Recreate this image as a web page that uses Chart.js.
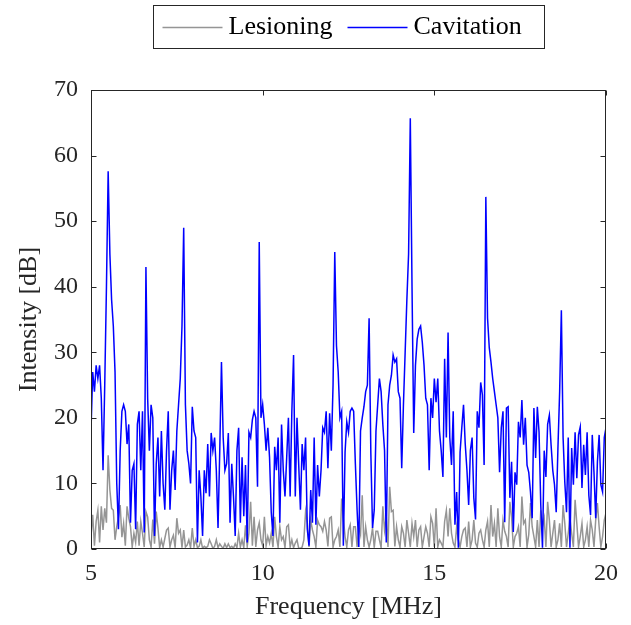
<!DOCTYPE html>
<html>
<head>
<meta charset="utf-8">
<script src="https://cdn.jsdelivr.net/npm/chart.js@4.4.0/dist/chart.umd.min.js"></script>
<style>
html, body { margin: 0; padding: 0; background: #fff; }
#wrap { width: 631px; height: 625px; }
</style>
</head>
<body>
<div id="wrap"><canvas id="spectrum" width="631" height="625"></canvas></div>
<script>
// frequency grid of the spectra [MHz]
var freqStart = 5;
var freqStep = 0.05;

var xTicks = [5, 10, 15, 20];
var yTicks = [0, 10, 20, 30, 40, 50, 60, 70];

var seriesNames = ['Lesioning', 'Cavitation'];

// Intensity [dB], one value every 0.05 MHz from 5 to 20 MHz
var cavitation = [
  18, 27, 24, 28, 26, 28, 23, 12, 25, 40, 57.6, 45, 38, 34, 27, 10, 3, 15, 21, 22,
  21, 16, 19, 4, 12, 13, 3, 19, 21, 12, 21, 2.5, 43, 23, 15, 22, 20, 2, 13, 17,
  8, 18, 10, 6, 15, 21, 6, 12, 15, 9, 18, 22, 26, 34, 49, 22, 15, 13, 10, 21.7,
  18, 17, 1, 12, 8, 2, 12, 8.5, 16, 8, 17.7, 15, 17, 12, 3.2, 15, 28.5, 17, 12, 13,
  17.7, 4, 13, 8, 2, 15, 18.5, 4, 14, 5, 12.8, 1, 17.8, 17, 19.7, 21, 20, 9.5, 46.8, 20,
  22, 19, 15, 18.5, 14, 5.6, 2, 15.6, 12, 17, 4, 19, 12, 8, 14, 20, 8, 21, 29.6, 8,
  20, 12.8, 6, 16, 12, 17, 3, 0.5, 9, 4, 17, 3.7, 12.8, 8, 12, 18.5, 17.8, 21, 12.3, 20.7,
  15, 25, 45.3, 31, 27, 20, 21, 0.5, 14.8, 19.4, 17.8, 21, 21.5, 21, 13, 6, 0.3, 18, 20, 21.7,
  24, 25, 35.2, 14.8, 3.2, 6, 18, 22, 26, 24, 19, 15, 1, 22, 25, 26.5, 29.6, 28.5, 29, 24,
  23, 12.3, 22, 30, 38, 45, 65.7, 40, 17.7, 28, 32, 33.5, 34, 31.5, 28, 23, 22, 12, 23, 20,
  26, 22.4, 26, 18, 15, 11, 29, 17, 33, 17, 12.8, 21, 3.7, 8.7, 0.2, 14.8, 18.5, 22, 16, 12,
  6.7, 15, 17, 7.8, 4.5, 21, 18.5, 25.4, 23.5, 12.8, 53.7, 35.2, 30.7, 28.5, 26, 24, 22, 20, 11.7, 18.5,
  21, 4.1, 21.5, 21.7, 7.8, 13.3, 2.6, 11.7, 9.8, 19.4, 17, 22.7, 15.9, 20, 12.8, 11.7, 8.7, 4.7, 21.5, 13.9,
  21.7, 17.8, 6.7, 0.2, 15, 11, 19, 20.4, 15.9, 12, 9.8, 5.6, 15.4, 24, 36.4, 17, 10.2, 5.6, 17, 0.2,
  15.4, 9.8, 17.8, 10.8, 17.4, 18.6, 9.3, 15.9, 11.3, 17.8, 8.2, 5.2, 17.4, 11.7, 4.7, 13.3, 17.4, 9.8, 8.7, 17, 18.5
];

var lesioning = [
  2, 5.2, 0.5, 4.2, 5.9, 1, 6.5, 2.9, 6.2, 4, 14.3, 9, 6.2, 5.9, 1.4, 3.4, 4.9, 6.7, 1.8, 3.9,
  0.5, 6.5, 4.7, 3.4, 0.3, 2.4, 1, 4.2, 0.5, 4.2, 2.4, 0.3, 5.7, 4.9, 1.4, 0.3, 4.5, 0.8, 5.7, 3.2,
  0.2, 1.4, 0.3, 1.6, 2.9, 3.2, 0.3, 1.4, 2.1, 0.2, 4.7, 2.4, 2.9, 0.2, 2.9, 0.3, 0.6, 1.4, 0.2, 3.2,
  0.4, 1.4, 0.2, 0.4, 1.4, 0.1, 0.4, 0.2, 0.4, 1.4, 0.8, 0.1, 0.4, 1.4, 0.2, 0.8, 0.4, 0.1, 0.8, 0.2,
  0.8, 0.2, 0.4, 0.1, 0.8, 0.2, 2.4, 0.3, 1.4, 0.2, 3.6, 0.4, 2.4, 7.2, 0.5, 4.9, 0.3, 2.9, 4, 1.4,
  0.5, 4.9, 0.5, 1.9, 0.9, 2.4, 0.3, 4.9, 1.9, 0.3, 3.4, 1.4, 1.9, 0.2, 3.4, 3.7, 0.3, 1.4, 0.2, 0.9,
  1.4, 0.1, 0.1, 0.3, 1.4, 5.7, 3.9, 0.3, 4.4, 2.9, 1.9, 0.3, 4.4, 3.7, 3.4, 2.7, 4.2, 2.9, 0.4, 4.7,
  4.9, 0.3, 1.4, 1.9, 2.9, 0.3, 7.7, 4.7, 1.9, 0.3, 2.9, 3.7, 0.3, 3.4, 3.4, 0.3, 3.4, 2.2, 8.2, 0.3,
  3.4, 1.4, 0.3, 1.4, 3.2, 0.2, 2.7, 2.7, 1.4, 0.2, 6.5, 2.9, 4.9, 0.3, 9.5, 5.7, 5.9, 0.4, 3.4, 1.4,
  0.3, 3.4, 2.4, 0.3, 4.4, 2.4, 0.3, 3.9, 1.9, 4.4, 0.3, 2.9, 3.4, 0.3, 1.9, 3.4, 2.4, 0.3, 4.9, 3.9,
  0.3, 6.2, 0.3, 1.4, 0.9, 0.3, 4.2, 5.9, 1.9, 6.2, 2.4, 0.9, 0.3, 3.4, 1.4, 0.3, 1.9, 2.9, 3.2, 0.3,
  4.2, 0.3, 1.4, 4.4, 0.9, 0.3, 2.4, 2.9, 1.4, 0.3, 2.9, 4.2, 0.3, 6.7, 1.9, 3.9, 0.3, 6.2, 1.9, 0.3,
  4.4, 2.7, 1.9, 0.3, 7.2, 4.9, 0.3, 1.9, 2.4, 3.4, 0.3, 8, 3.9, 4.4, 0.3, 2.2, 7, 3.4, 1.9, 0.3,
  4.4, 0.3, 5.9, 3.4, 4.7, 0.3, 7.2, 4.4, 0.3, 2.4, 4.4, 0.3, 1.4, 3.9, 0.3, 6.7, 3.9, 0.3, 2.4, 4.7,
  2.4, 0.3, 7.5, 3.9, 0.3, 1.9, 3.9, 0.3, 1.4, 3.4, 0.3, 4.4, 2.9, 0.3, 4.4, 7, 3.4, 0.3, 1.9, 4.4, 5.5
];

var axisColor = '#262626';
var serif = '"Liberation Serif", "Times New Roman", serif';

function toPoints(values) {
  return values.map(function (v, i) {
    return { x: +(freqStart + i * freqStep).toFixed(2), y: v };
  });
}

// box round the axes with inward tick marks, like the matlab default
var frame = {
  id: 'frame',
  afterDatasetsDraw: function (chart) {
    var ctx = chart.ctx, a = chart.chartArea;
    var xs = chart.scales.x, ys = chart.scales.y;
    var l = Math.round(a.left) + 0.5, r = Math.round(a.right) - 0.5;
    var t = Math.round(a.top) + 0.5, b = Math.round(a.bottom) - 0.5;
    ctx.save();
    ctx.strokeStyle = axisColor;
    ctx.lineWidth = 1;
    ctx.strokeRect(l, t, r - l, b - t);
    ctx.beginPath();
    xTicks.forEach(function (v) {
      var px = Math.round(xs.getPixelForValue(v)) + 0.5;
      ctx.moveTo(px, b); ctx.lineTo(px, b - 5);
      ctx.moveTo(px, t); ctx.lineTo(px, t + 5);
    });
    yTicks.forEach(function (v) {
      var py = Math.round(ys.getPixelForValue(v)) + 0.5;
      ctx.moveTo(l, py); ctx.lineTo(l + 5, py);
      ctx.moveTo(r, py); ctx.lineTo(r - 5, py);
    });
    ctx.stroke();
    ctx.restore();
  }
};

// legend in a framed box above the axes
var legendBox = {
  id: 'legendBox',
  afterDraw: function (chart) {
    var ctx = chart.ctx, a = chart.chartArea;
    var w = 391, h = 43;
    var left = Math.round((a.left + a.right) / 2 - w / 2) + 0.5, top = 5.5;
    var y = Math.round(top + h / 2) + 0.5;
    var offsets = [9, 194];
    ctx.save();
    ctx.fillStyle = '#fff';
    ctx.fillRect(left, top, w, h);
    ctx.strokeStyle = axisColor;
    ctx.lineWidth = 1;
    ctx.strokeRect(left, top, w, h);
    ctx.font = '26px ' + serif;
    ctx.textBaseline = 'middle';
    chart.data.datasets.forEach(function (ds, i) {
      var x0 = left + offsets[i];
      ctx.strokeStyle = ds.borderColor;
      ctx.lineWidth = 1.4;
      ctx.beginPath();
      ctx.moveTo(x0, y); ctx.lineTo(x0 + 60, y);
      ctx.stroke();
      ctx.fillStyle = '#000';
      ctx.fillText(ds.label, x0 + 66, y);
    });
    ctx.restore();
  }
};

var chart = new Chart(document.getElementById('spectrum'), {
  type: 'line',
  data: {
    datasets: [
      {
        label: seriesNames[0],
        data: toPoints(lesioning),
        borderColor: '#959595',
        borderWidth: 1.5,
        order: 1
      },
      {
        label: seriesNames[1],
        data: toPoints(cavitation),
        borderColor: '#0000ff',
        borderWidth: 1.5,
        order: 0
      }
    ]
  },
  options: {
    responsive: false,
    animation: false,
    devicePixelRatio: 1,
    layout: { padding: { top: 90, right: 25, left: 0, bottom: 0 } },
    elements: { point: { radius: 0 }, line: { tension: 0 } },
    plugins: {
      legend: { display: false },
      tooltip: { enabled: false }
    },
    scales: {
      x: {
        type: 'linear',
        min: 5,
        max: 20,
        afterBuildTicks: function (s) { s.ticks = xTicks.map(function (v) { return { value: v }; }); },
        afterFit: function (s) { s.height = 76; },
        grid: { display: false, drawTicks: false },
        border: { display: false },
        ticks: { color: axisColor, font: { family: serif, size: 24 }, padding: 10, maxRotation: 0 },
        title: {
          display: true,
          text: 'Frequency [MHz]',
          color: axisColor,
          font: { family: serif, size: 26 },
          padding: { top: 0, bottom: 2 }
        }
      },
      y: {
        min: 0,
        max: 70,
        afterBuildTicks: function (s) { s.ticks = yTicks.map(function (v) { return { value: v }; }); },
        afterFit: function (s) { s.width = 91; },
        grid: { display: false, drawTicks: false },
        border: { display: false },
        ticks: { color: axisColor, font: { family: serif, size: 24 }, padding: 13 },
        title: {
          display: true,
          text: 'Intensity [dB]',
          color: axisColor,
          font: { family: serif, size: 26 },
          padding: { top: 14, bottom: 0 }
        }
      }
    }
  },
  plugins: [frame, legendBox]
});
</script>
</body>
</html>
